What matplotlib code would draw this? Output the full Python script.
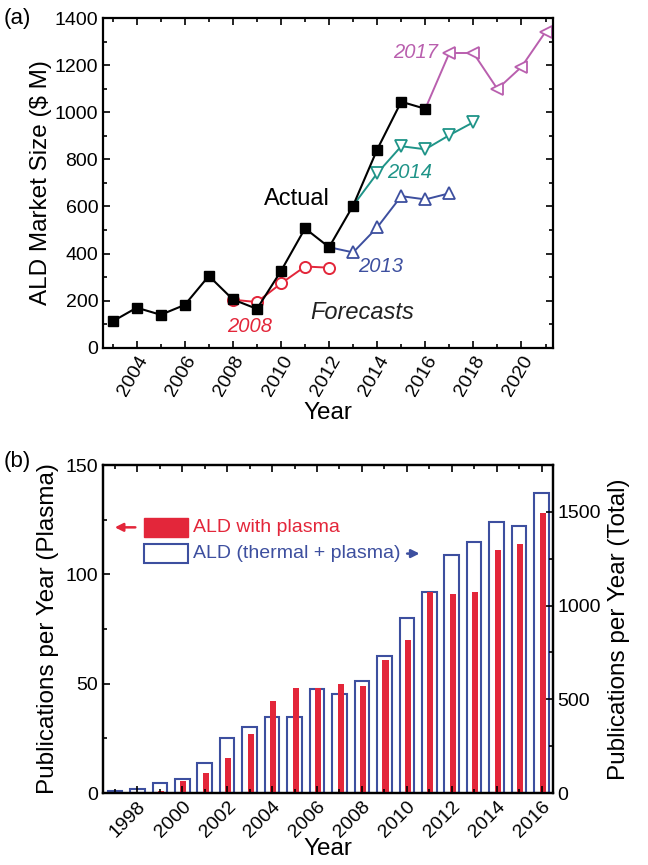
import matplotlib.pyplot as plt
from matplotlib.ticker import MultipleLocator

plt.rcParams['font.family'] = ['Liberation Sans', 'DejaVu Sans']

# (a) ALD market size, $ M
actual_years = [2003, 2004, 2005, 2006, 2007, 2008, 2009, 2010, 2011, 2012, 2013, 2014, 2015, 2016]
actual_vals = [112, 170, 140, 182, 305, 205, 165, 326, 507, 427, 604, 842, 1045, 1015]

f2008_years = [2008, 2009, 2010, 2011, 2012]
f2008_vals = [204, 194, 273, 345, 340]

# forecasts start from the last actual point
f2013_years = [2012, 2013, 2014, 2015, 2016, 2017]
f2013_vals = [427, 405, 511, 644, 630, 656]

f2014_years = [2013, 2014, 2015, 2016, 2017, 2018]
f2014_vals = [604, 741, 856, 843, 903, 958]

f2017_years = [2016, 2017, 2018, 2019, 2020, 2021]
f2017_vals = [1015, 1252, 1252, 1099, 1193, 1342]

# (b) publications per year
pub_years = list(range(1997, 2017))
plasma = [0.3, 0.3, 0.8, 5.5, 9, 16, 27, 42, 48, 48, 50, 49, 61, 70, 92, 91, 92, 111, 114, 128]
total = [10, 20, 52, 73, 158, 291, 353, 406, 406, 553, 527, 596, 729, 933, 1075, 1270, 1337, 1447, 1426, 1600]

c_red = '#e3263a'
c_blue = '#3d4f9f'
c_teal = '#1f9488'
c_purple = '#b95fae'

TICK = 14
LAB = 17.5

fig = plt.figure(figsize=(6.48, 8.65), dpi=100)
ax = fig.add_axes([0.159, 0.598, 0.694, 0.381])

ax.plot(f2008_years, f2008_vals, '-o', color=c_red, mfc='white', mec=c_red, ms=8, lw=1.4, mew=1.4)
ax.plot(f2013_years, f2013_vals, '-^', color=c_blue, mfc='white', mec=c_blue, ms=9, lw=1.4, mew=1.3,
        markevery=slice(1, None))
ax.plot(f2014_years, f2014_vals, '-v', color=c_teal, mfc='white', mec=c_teal, ms=9, lw=1.4, mew=1.3,
        markevery=slice(1, None))
ax.plot(f2017_years, f2017_vals, '-<', color=c_purple, mfc='white', mec=c_purple, ms=9, lw=1.4, mew=1.3,
        markevery=slice(1, None))
ax.plot(actual_years, actual_vals, '-s', color='black', ms=7, lw=1.5, zorder=5)

ax.text(2016.55, 1255, '2017', color=c_purple, style='italic', fontsize=14.5, ha='right', va='center')
ax.text(2014.4, 745, '2014', color=c_teal, style='italic', fontsize=14.5, ha='left', va='center')
ax.text(2013.2, 345, '2013', color=c_blue, style='italic', fontsize=14.5, ha='left', va='center')
ax.text(2007.75, 90, '2008', color=c_red, style='italic', fontsize=14.5, ha='left', va='center')
ax.text(2009.3, 630, 'Actual', color='black', fontsize=17, ha='left', va='center')
ax.text(2011.2, 148, 'Forecasts', color='#222222', style='italic', fontsize=17, ha='left', va='center')

ax.set_xlim(2002.6, 2021.3)
ax.set_ylim(0, 1400)
ax.xaxis.set_major_locator(MultipleLocator(2))
ax.xaxis.set_minor_locator(MultipleLocator(1))
ax.yaxis.set_major_locator(MultipleLocator(200))
ax.yaxis.set_minor_locator(MultipleLocator(100))
ax.set_xticks(range(2004, 2021, 2))
ax.tick_params(which='both', direction='in', top=True, right=True, width=1.2)
ax.tick_params(which='major', length=5, labelsize=TICK)
ax.tick_params(which='minor', length=3)
ax.tick_params(axis='y', labelright=False)
for lab in ax.get_xticklabels():
    lab.set_rotation(60)
    lab.set_ha('right')
    lab.set_rotation_mode('anchor')
ax.set_xlabel('Year', fontsize=LAB, labelpad=2)
ax.set_ylabel('ALD Market Size ($ M)', fontsize=LAB, labelpad=2)
for s in ax.spines.values():
    s.set_linewidth(1.6)
fig.text(0.006, 0.979, '(a)', fontsize=16, va='center')

# (b)
bx = fig.add_axes([0.159, 0.0832, 0.694, 0.3792])
bx2 = bx.twinx()
bx2.bar(pub_years, total, width=0.65, facecolor='none', edgecolor=c_blue, linewidth=1.5)
bx.bar([y + 0.05 for y in pub_years], plasma, width=0.27, color=c_red, linewidth=0)
bx.set_zorder(bx2.get_zorder() + 1)
bx.patch.set_visible(False)

bx.set_xlim(1996.47, 2016.5)
bx.set_ylim(0, 150)
bx2.set_ylim(0, 1750)
bx.set_xticks(range(1998, 2017, 2))
bx.xaxis.set_minor_locator(MultipleLocator(1))
bx.yaxis.set_major_locator(MultipleLocator(50))
bx.yaxis.set_minor_locator(MultipleLocator(25))
bx2.yaxis.set_major_locator(MultipleLocator(500))
bx2.yaxis.set_minor_locator(MultipleLocator(250))
bx.tick_params(which='both', direction='in', top=True, width=1.2)
bx.tick_params(which='major', length=5, labelsize=TICK)
bx.tick_params(which='minor', length=3)
bx2.tick_params(which='both', direction='in', width=1.2)
bx2.tick_params(which='major', length=5, labelsize=TICK)
bx2.tick_params(which='minor', length=3)
for lab in bx.get_xticklabels():
    lab.set_rotation(45)
    lab.set_ha('right')
    lab.set_rotation_mode('anchor')
bx.set_xlabel('Year', fontsize=LAB, labelpad=-2)
bx.set_ylabel('Publications per Year (Plasma)', fontsize=LAB, labelpad=5)
bx2.set_ylabel('Publications per Year (Total)', fontsize=LAB, labelpad=5)
for s in bx2.spines.values():
    s.set_linewidth(1.6)
for s in bx.spines.values():
    s.set_linewidth(1.6)
fig.text(0.006, 0.466, '(b)', fontsize=16, va='center')

# legend drawn by hand in axes fraction
bx.add_patch(plt.Rectangle((0.092, 0.78), 0.096, 0.06, transform=bx.transAxes,
                           facecolor=c_red, edgecolor=c_red, clip_on=False))
bx.add_patch(plt.Rectangle((0.092, 0.70), 0.096, 0.06, transform=bx.transAxes,
                           facecolor='none', edgecolor=c_blue, linewidth=1.5, clip_on=False))
bx.text(0.2, 0.81, 'ALD with plasma', color=c_red, fontsize=14, transform=bx.transAxes, va='center')
bx.text(0.2, 0.73, 'ALD (thermal + plasma)', color=c_blue, fontsize=14, transform=bx.transAxes, va='center')
bx.annotate('', xy=(0.02, 0.81), xytext=(0.078, 0.81), xycoords='axes fraction',
            arrowprops=dict(arrowstyle='-|>', color=c_red, lw=1.8, mutation_scale=12))
bx.annotate('', xy=(0.71, 0.73), xytext=(0.67, 0.73), xycoords='axes fraction',
            arrowprops=dict(arrowstyle='-|>', color=c_blue, lw=1.8, mutation_scale=12))

fig.savefig('out.png', dpi=100)
